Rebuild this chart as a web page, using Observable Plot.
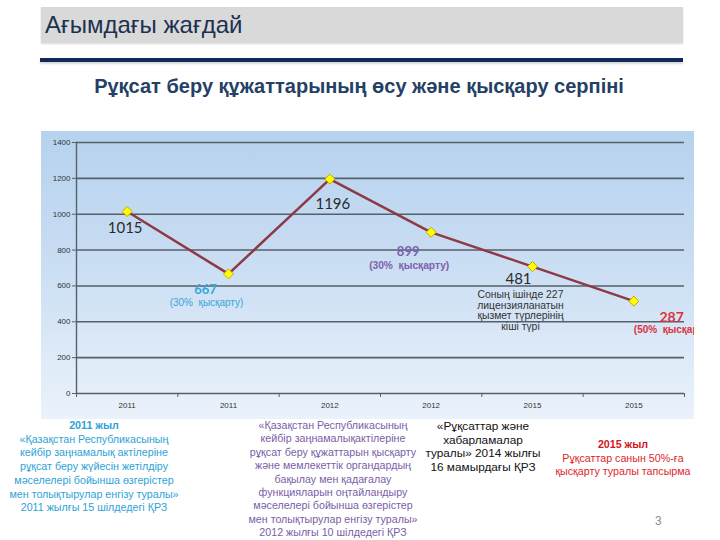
<!DOCTYPE html>
<html>
<head>
<meta charset="utf-8">
<script src="https://cdn.jsdelivr.net/npm/d3@7"></script>
<script src="https://cdn.jsdelivr.net/npm/@observablehq/plot@0.6"></script>
<style>
  html, body { margin: 0; padding: 0; background: #fff; }
  #page { position: relative; width: 720px; height: 540px; overflow: hidden; font-family: "Liberation Sans", Arial, sans-serif; }
  #header { position: absolute; left: 41px; top: 7px; width: 642px; height: 36px; background: #d9d9d9; box-shadow: 0 1px 2px rgba(0,0,0,0.15); }
  #header span { position: absolute; left: 4px; top: 4px; font-size: 24px; color: #1c3150; white-space: nowrap; }
  #rule { position: absolute; left: 40px; top: 58px; width: 643px; height: 4px; background: #10285a; box-shadow: 0 2px 2px rgba(0,0,0,0.15); }
  #subtitle { position: absolute; left: 0; top: 75px; width: 718px; text-align: center; font-size: 20px; font-weight: bold; color: #253f66; white-space: nowrap; }
  #chart { position: absolute; left: 41px; top: 131px; width: 653px; height: 288px; overflow: hidden;
           background: linear-gradient(to bottom, #b6d2ee 0%, #c9ddf3 45%, #e2edf9 85%, #eaf2fb 100%); }
  .note { position: absolute; text-align: center; white-space: nowrap; font-size: 10.7px; }
  #n1 { left: 0px; width: 188px; top: 419px; line-height: 13.7px; color: #2ea2d6; }
  #n2 { left: 233px; width: 200px; top: 419px; line-height: 13.4px; color: #7b5ea7; }
  #n3 { left: 413px; width: 140px; top: 420px; line-height: 13.7px; color: #111; font-size: 11.8px; }
  #n4 { left: 543px; width: 160px; top: 438px; line-height: 13.5px; color: #e0262b; }
  #pg { position: absolute; left: 655px; top: 514px; font-size: 12px; color: #8c8c8c; }
</style>
</head>
<body>
<div id="page">
  <div id="header"><span>Ағымдағы жағдай</span></div>
  <div id="rule"></div>
  <div id="subtitle">Рұқсат беру құжаттарының өсу және қысқару серпіні</div>
  <div id="chart"></div>
  <div class="note" id="n1"><b>2011 жыл</b><br>«Қазақстан Республикасының<br>кейбір заңнамалық  актілеріне<br>рұқсат беру жүйесін жетілдіру<br>мәселелері бойынша өзгерістер<br>мен толықтырулар енгізу туралы»<br>2011 жылғы 15 шілдедегі ҚРЗ</div>
  <div class="note" id="n2">«Қазақстан Республикасының<br>кейбір заңнамалықактілеріне<br>рұқсат беру құжаттарын қысқарту<br>және мемлекеттік органдардың<br>бақылау мен қадағалау<br>функцияларын оңтайландыру<br>мәселелері бойынша өзгерістер<br>мен толықтырулар енгізу туралы»<br>2012 жылғы 10 шілдедегі ҚРЗ</div>
  <div class="note" id="n3">«Рұқсаттар және<br>хабарламалар<br>туралы» 2014 жылғы<br>16 мамырдағы ҚРЗ</div>
  <div class="note" id="n4"><b style="color:#d0161c">2015 жыл</b><br>Рұқсаттар санын 50%-ға<br>қысқарту туралы тапсырма</div>
  <div id="pg">3</div>
</div>
<script>
const years = ["2011", "2011", "2012", "2012", "2015", "2015"];
const values = [1015, 667, 1196, 899, 708, 515];
const valueLabels = ["1015", "667", "1196", "899", "481", "287"];
const cutLabels = ["", "(30%  қысқарту)", "", "(30%  қысқарту)", "", "(50%  қысқарту)"];
const note481 = "Соның ішінде 227\nлицензияланатын\nқызмет түрлерінің\nкіші түрі";
const yTicks = [0, 200, 400, 600, 800, 1000, 1200, 1400];

const data = years.map((y, i) => ({i, x: i + 0.5, year: y, value: values[i], label: valueLabels[i], cut: cutLabels[i]}));
const one = (i) => [data[i]];

const gridColor = "#55606a";
const numFont = "Lato, 'Liberation Sans', sans-serif";
const smallFont = "'Liberation Sans', Arial, sans-serif";

const chart = Plot.plot({
  width: 653,
  height: 288,
  marginLeft: 35,
  marginRight: 10,
  marginTop: 11,
  marginBottom: 26,
  style: {background: "transparent", fontFamily: smallFont, overflow: "hidden"},
  x: {domain: [0, 6]},
  y: {domain: [0, 1400]},
  marks: [
    Plot.gridY(yTicks.slice(1), {stroke: gridColor, strokeOpacity: 1, strokeWidth: 1.6}),
    Plot.ruleY([0], {stroke: gridColor, strokeWidth: 1.6}),
    Plot.ruleX([0], {stroke: gridColor, strokeWidth: 1.4}),
    Plot.axisY({ticks: yTicks, tickSize: 4, tickPadding: 2, fontSize: 8, fill: "#333", stroke: gridColor,
                label: null, tickFormat: (d) => String(d)}),
    Plot.axisX({ticks: d3.range(7), tickSize: 4, tickFormat: () => "", stroke: gridColor, label: null}),
    Plot.axisX({ticks: data.map(d => d.x), tickSize: 0, tickPadding: 9, fontSize: 8, fill: "#333", label: null,
                tickFormat: (d) => years[Math.floor(d)]}),
    Plot.line(data, {x: "x", y: "value", stroke: "#8e3a44", strokeWidth: 2.5}),
    Plot.dot(data, {x: "x", y: "value", symbol: "diamond2", r: 4.5, fill: "#ffff00", stroke: "#c8a400", strokeWidth: 1}),
    // plain value labels
    Plot.text(one(0), {x: "x", y: "value", text: "label", dx: -2, dy: 17, fontSize: 15, fontFamily: numFont, fill: "#2b2b2b"}),
    Plot.text(one(2), {x: "x", y: "value", text: "label", dx: 3, dy: 25, fontSize: 15, fontFamily: numFont, fill: "#2b2b2b"}),
    Plot.text(one(4), {x: "x", y: "value", text: "label", dx: -14, dy: 13, fontSize: 15, fontFamily: numFont, fill: "#2b2b2b"}),
    Plot.text(one(4), {x: "x", y: "value", text: () => note481, dx: -12, dy: 24, lineAnchor: "top", lineHeight: 1.02, fontSize: 10.4, fill: "#333"}),
    // 667 (cyan)
    Plot.text(one(1), {x: "x", y: "value", text: "label", dx: -23, dy: 16, fontSize: 13, fontWeight: "bold", fontFamily: numFont, fill: "#35a6d8"}),
    Plot.text(one(1), {x: "x", y: "value", text: "cut", dx: -22, dy: 29, fontSize: 10, fill: "#35a6d8"}),
    // 899 (purple)
    Plot.text(one(3), {x: "x", y: "value", text: "label", dx: -23, dy: 20, fontSize: 13, fontWeight: "bold", fontFamily: numFont, fill: "#7d62ab"}),
    Plot.text(one(3), {x: "x", y: "value", text: "cut", dx: -22, dy: 33, fontSize: 10.2, fontWeight: "bold", fill: "#7d62ab"}),
    // 287 (red)
    Plot.text(one(5), {x: "x", y: "value", text: "label", dx: 50, dy: 16, textAnchor: "end", fontSize: 14, fontWeight: "bold", fontFamily: numFont, fill: "#d9343c"}),
    Plot.text(one(5), {x: "x", y: "value", text: "cut", dx: 0, dy: 29, textAnchor: "start", fontSize: 10, fontWeight: "bold", fill: "#d9343c"})
  ]
});
document.getElementById("chart").appendChild(chart);
</script>
</body>
</html>
